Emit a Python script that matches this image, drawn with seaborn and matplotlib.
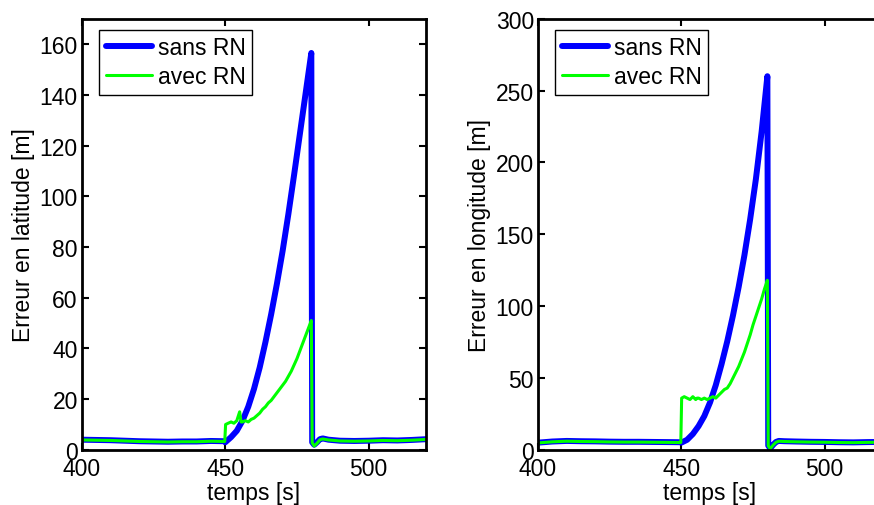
import pandas as pd
import matplotlib
matplotlib.use("Agg")
import matplotlib.pyplot as plt
import seaborn as sns

# time samples (s)
t_before = [400, 405, 410, 415, 420, 425, 430, 435, 440, 445, 449.8]
t_after = [480.3, 481, 482, 483, 484, 486, 490, 495, 500, 505, 510, 515, 520]
t_rise_sans = [450, 452, 454, 456, 458, 460, 462, 464, 466, 468, 470, 472, 474, 476, 478, 480]
t_rise_avec = [450.1, 451, 452, 453, 454, 455, 455.5, 456, 457, 458, 459, 460, 461, 462, 463, 464,
               465, 466, 467, 468, 469, 470, 471, 472, 473, 474, 475, 476, 477, 478, 479, 480]

# latitude error [m]
lat_sans_before = [4.0, 3.9, 3.8, 3.6, 3.4, 3.3, 3.2, 3.3, 3.3, 3.5, 3.4]
lat_sans_rise = [3, 5, 7.5, 11.5, 17, 24, 32.5, 42.5, 53.5, 65.5, 78.5, 93, 108.5, 124.5, 140.5, 156.5]
lat_sans_after = [3.0, 2.0, 3.0, 4.2, 4.5, 4.0, 3.6, 3.5, 3.6, 3.8, 3.7, 3.9, 4.2]
lat_avec_before = [3.9, 3.8, 3.7, 3.5, 3.3, 3.2, 3.1, 3.2, 3.2, 3.4, 3.3]
lat_avec_rise = [10, 10.5, 11, 10.5, 11.5, 15, 11, 11, 11.5, 11, 12, 12.5, 13.5, 14.5, 16, 17,
                 18.5, 19.5, 21, 22.5, 24, 25.5, 27, 29, 31, 33.5, 36, 39, 42, 45, 48, 51]
lat_avec_after = [2.8, 1.5, 2.6, 4.0, 4.3, 3.9, 3.5, 3.4, 3.5, 3.7, 3.6, 3.8, 4.1]

# longitude error [m]
lon_sans_before = [5.0, 5.8, 6.2, 6.0, 5.9, 5.7, 5.6, 5.6, 5.5, 5.4, 5.3]
lon_sans_rise = [5, 7, 11, 16.5, 23.5, 33, 45, 59.5, 75.5, 93.5, 113.5, 135.5, 160.5, 188.5, 221.5, 260]
lon_sans_after = [3.0, 1.0, 3.5, 5.5, 6.2, 6.0, 5.8, 5.6, 5.5, 5.3, 5.2, 5.4, 5.5]
lon_avec_before = [4.8, 5.6, 6.0, 5.8, 5.7, 5.5, 5.4, 5.4, 5.3, 5.2, 5.1]
lon_avec_rise = [36, 37, 36, 35, 37, 35, 36, 36, 35, 36, 35, 36, 37, 36, 38, 40,
                 42, 43, 46, 50, 54, 58, 63, 68, 74, 80, 87, 93, 99, 105, 112, 118]
lon_avec_after = [2.8, 0.8, 3.3, 5.3, 6.0, 5.8, 5.6, 5.4, 5.3, 5.1, 5.0, 5.2, 5.3]


def series(t_rise, before, rise, after):
    return pd.DataFrame({"t": t_before + t_rise + t_after, "v": before + rise + after})


sns.set_theme(style="white")
plt.rcParams["font.family"] = ["Liberation Sans", "DejaVu Sans"]
plt.rcParams["text.color"] = "black"
plt.rcParams["axes.labelcolor"] = "black"

FS = 16.5

fig = plt.figure(figsize=(8.74, 5.06), dpi=100)
ax1 = fig.add_axes([0.0938, 0.109, 0.3936, 0.852])
ax2 = fig.add_axes([0.6156, 0.109, 0.3936, 0.852])

panels = [
    (ax1, lat_sans_before, lat_sans_rise, lat_sans_after,
     lat_avec_before, lat_avec_rise, lat_avec_after, 170, 20, "Erreur en latitude [m]"),
    (ax2, lon_sans_before, lon_sans_rise, lon_sans_after,
     lon_avec_before, lon_avec_rise, lon_avec_after, 300, 50, "Erreur en longitude [m]"),
]

for ax, sb, sr, sa, ab, ar, aa, ymax, ystep, ylabel in panels:
    d_sans = series(t_rise_sans, sb, sr, sa)
    d_avec = series(t_rise_avec, ab, ar, aa)
    sns.lineplot(data=d_sans, x="t", y="v", ax=ax, color="#0000ff", linewidth=4.3,
                 sort=False, estimator=None, label="sans RN",
                 solid_joinstyle="round", solid_capstyle="round")
    sns.lineplot(data=d_avec, x="t", y="v", ax=ax, color="#00ff00", linewidth=2.2,
                 sort=False, estimator=None, label="avec RN")
    ax.set_xlim(400, 520)
    ax.set_ylim(0, ymax)
    ax.set_xticks([400, 450, 500])
    ax.set_yticks(range(0, ymax + 1, ystep))
    ax.set_xlabel("temps [s]", fontsize=FS, labelpad=1)
    ax.set_ylabel(ylabel, fontsize=FS, labelpad=3)
    ax.tick_params(direction="in", length=5, width=1.5, labelsize=FS, colors="black",
                   top=True, right=True, bottom=True, left=True, pad=3)
    ax.tick_params(axis="x", pad=5)
    for s in ax.spines.values():
        s.set_linewidth(2)
        s.set_color("black")
    ax.legend(loc="upper left", bbox_to_anchor=(0.05, 0.975), borderaxespad=0,
              fontsize=FS, fancybox=False, edgecolor="black", framealpha=1,
              handlelength=2.0, labelspacing=0.25, borderpad=0.3, handletextpad=0.25)
    ax.get_legend().get_frame().set_linewidth(1)

fig.savefig("out.png", dpi=100)
